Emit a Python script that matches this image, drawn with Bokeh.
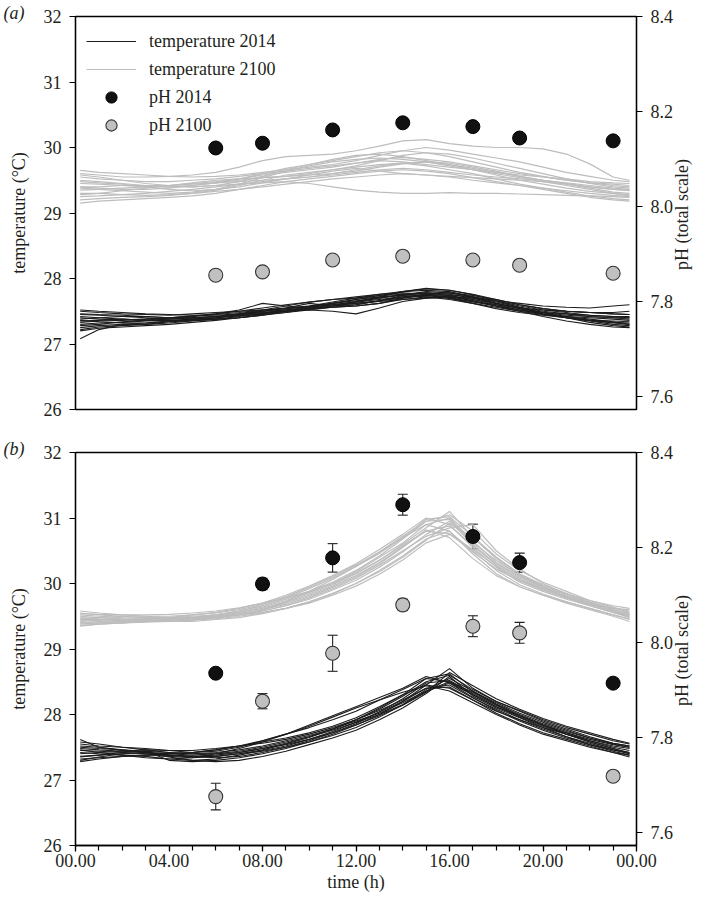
import math
from bokeh.plotting import figure
from bokeh.models import (Range1d, LinearAxis, FixedTicker, Whisker, TeeHead, Title,
                          ColumnDataSource, Legend, LegendItem, PrintfTickFormatter)
from bokeh.layouts import column
from bokeh.embed import file_html
from bokeh.resources import INLINE

FONT = "Liberation Serif"

# ---------------- data ----------------
hours = [0.2, 1, 2, 3, 4, 5, 6, 7, 8, 9, 10, 11, 12, 13, 14, 15, 16, 17, 18, 19, 20, 21, 22, 23, 23.7]

temp_a_2014 = [
    [27.08,27.22,27.30,27.32,27.35,27.38,27.40,27.43,27.47,27.50,27.53,27.56,27.60,27.66,27.72,27.76,27.74,27.68,27.60,27.52,27.45,27.40,27.36,27.33,27.32],
    [27.35,27.36,27.38,27.36,27.40,27.42,27.45,27.48,27.52,27.55,27.58,27.62,27.66,27.70,27.75,27.80,27.78,27.72,27.64,27.56,27.50,27.46,27.42,27.40,27.40],
    [27.45,27.44,27.42,27.40,27.38,27.40,27.42,27.45,27.48,27.50,27.52,27.56,27.58,27.62,27.68,27.72,27.70,27.65,27.60,27.55,27.52,27.50,27.48,27.46,27.45],
    [27.25,27.28,27.30,27.30,27.32,27.35,27.38,27.42,27.46,27.52,27.56,27.60,27.65,27.72,27.80,27.85,27.82,27.75,27.66,27.56,27.48,27.40,27.33,27.28,27.26],
    [27.50,27.48,27.46,27.45,27.44,27.46,27.48,27.50,27.52,27.54,27.57,27.60,27.62,27.65,27.68,27.70,27.72,27.70,27.66,27.62,27.58,27.56,27.55,27.58,27.60],
    [27.30,27.32,27.33,27.35,27.36,27.38,27.40,27.44,27.50,27.55,27.62,27.58,27.60,27.66,27.74,27.78,27.76,27.70,27.62,27.54,27.46,27.40,27.35,27.30,27.28],
    [27.40,27.38,27.37,27.38,27.40,27.42,27.46,27.52,27.62,27.58,27.55,27.56,27.58,27.62,27.70,27.74,27.75,27.72,27.66,27.58,27.52,27.48,27.44,27.42,27.42],
    [27.20,27.24,27.26,27.28,27.30,27.33,27.36,27.40,27.45,27.48,27.52,27.50,27.46,27.55,27.65,27.70,27.72,27.66,27.58,27.50,27.42,27.35,27.30,27.26,27.25],
    [27.38,27.40,27.42,27.42,27.40,27.38,27.40,27.45,27.50,27.54,27.58,27.64,27.70,27.76,27.80,27.82,27.80,27.72,27.62,27.54,27.48,27.44,27.42,27.40,27.38],
    [27.28,27.30,27.34,27.36,27.38,27.40,27.42,27.46,27.50,27.52,27.54,27.58,27.62,27.66,27.70,27.76,27.78,27.74,27.68,27.60,27.54,27.50,27.48,27.48,27.50],
    [27.42,27.40,27.38,27.36,27.35,27.36,27.38,27.40,27.44,27.50,27.56,27.62,27.68,27.72,27.74,27.72,27.68,27.62,27.56,27.50,27.45,27.42,27.40,27.38,27.36],
    [27.33,27.35,27.36,27.38,27.40,27.43,27.46,27.50,27.55,27.60,27.64,27.68,27.70,27.74,27.76,27.74,27.70,27.64,27.58,27.52,27.46,27.42,27.38,27.34,27.30],
    [27.46,27.45,27.44,27.42,27.40,27.40,27.42,27.44,27.46,27.50,27.54,27.58,27.64,27.70,27.76,27.78,27.74,27.66,27.58,27.52,27.48,27.46,27.44,27.42,27.40],
    [27.22,27.26,27.28,27.30,27.34,27.36,27.38,27.40,27.44,27.48,27.54,27.60,27.64,27.68,27.72,27.74,27.72,27.68,27.62,27.55,27.48,27.42,27.36,27.32,27.30],
    [27.36,27.34,27.32,27.32,27.34,27.36,27.40,27.46,27.52,27.58,27.64,27.68,27.72,27.76,27.78,27.76,27.70,27.62,27.54,27.48,27.44,27.40,27.36,27.35,27.34],
    [27.52,27.50,27.48,27.46,27.45,27.44,27.44,27.46,27.48,27.52,27.56,27.62,27.68,27.74,27.80,27.84,27.82,27.76,27.68,27.60,27.54,27.50,27.48,27.46,27.45],
]

temp_a_2100 = [
    [29.60,29.58,29.55,29.55,29.56,29.58,29.62,29.70,29.80,29.86,29.88,29.90,29.95,30.02,30.10,30.12,30.06,30.02,30.00,30.00,29.98,29.90,29.75,29.55,29.50],
    [29.45,29.44,29.42,29.40,29.42,29.45,29.48,29.52,29.58,29.62,29.66,29.70,29.76,29.82,29.85,29.82,29.78,29.72,29.66,29.60,29.55,29.50,29.46,29.44,29.42],
    [29.30,29.30,29.28,29.27,29.28,29.30,29.33,29.36,29.40,29.44,29.48,29.52,29.55,29.58,29.60,29.58,29.55,29.50,29.46,29.42,29.38,29.34,29.30,29.27,29.25],
    [29.55,29.52,29.50,29.48,29.48,29.50,29.52,29.56,29.60,29.64,29.68,29.72,29.76,29.80,29.78,29.74,29.70,29.66,29.62,29.58,29.55,29.52,29.48,29.46,29.45],
    [29.20,29.22,29.24,29.25,29.27,29.30,29.35,29.42,29.50,29.58,29.62,29.66,29.70,29.74,29.76,29.72,29.66,29.60,29.52,29.44,29.38,29.32,29.26,29.22,29.20],
    [29.40,29.38,29.36,29.36,29.38,29.42,29.46,29.50,29.54,29.56,29.58,29.60,29.64,29.70,29.75,29.78,29.76,29.70,29.64,29.56,29.50,29.45,29.40,29.36,29.35],
    [29.35,29.36,29.38,29.40,29.40,29.40,29.42,29.44,29.46,29.48,29.45,29.40,29.35,29.32,29.30,29.30,29.31,29.30,29.30,29.29,29.28,29.27,29.26,29.25,29.24],
    [29.50,29.48,29.45,29.42,29.40,29.42,29.46,29.52,29.60,29.68,29.74,29.80,29.86,29.92,29.95,29.92,29.86,29.78,29.70,29.62,29.56,29.50,29.46,29.42,29.40],
    [29.25,29.26,29.28,29.30,29.33,29.36,29.40,29.44,29.48,29.52,29.55,29.60,29.66,29.72,29.76,29.78,29.74,29.66,29.58,29.50,29.44,29.38,29.33,29.30,29.28],
    [29.65,29.62,29.60,29.58,29.56,29.55,29.56,29.58,29.62,29.66,29.70,29.74,29.80,29.88,29.95,30.00,29.96,29.90,29.84,29.78,29.70,29.62,29.56,29.50,29.48],
    [29.40,29.40,29.42,29.42,29.42,29.44,29.46,29.48,29.50,29.52,29.55,29.58,29.62,29.66,29.68,29.66,29.62,29.58,29.55,29.52,29.50,29.46,29.42,29.38,29.36],
    [29.15,29.18,29.20,29.22,29.24,29.26,29.30,29.36,29.42,29.48,29.52,29.56,29.60,29.64,29.66,29.64,29.60,29.54,29.48,29.42,29.36,29.30,29.24,29.20,29.18],
    [29.58,29.55,29.50,29.45,29.42,29.40,29.42,29.48,29.56,29.66,29.74,29.82,29.88,29.90,29.86,29.80,29.74,29.68,29.62,29.56,29.50,29.44,29.38,29.32,29.30],
    [29.28,29.30,29.34,29.38,29.42,29.46,29.50,29.52,29.54,29.56,29.60,29.66,29.72,29.80,29.88,29.92,29.90,29.84,29.76,29.68,29.60,29.52,29.45,29.40,29.38],
    [29.48,29.46,29.44,29.40,29.36,29.34,29.36,29.40,29.46,29.52,29.58,29.64,29.68,29.64,29.60,29.58,29.56,29.54,29.52,29.50,29.48,29.44,29.40,29.36,29.34],
    [29.38,29.36,29.34,29.32,29.30,29.32,29.36,29.44,29.54,29.64,29.72,29.78,29.82,29.84,29.82,29.78,29.72,29.66,29.60,29.54,29.48,29.42,29.36,29.30,29.26],
]

temp_b_2014 = [
    [27.62,27.50,27.45,27.42,27.38,27.35,27.36,27.40,27.46,27.55,27.65,27.78,27.92,28.10,28.30,28.55,28.62,28.35,28.18,28.02,27.88,27.76,27.64,27.55,27.50],
    [27.30,27.35,27.40,27.42,27.40,27.38,27.40,27.44,27.50,27.58,27.66,27.76,27.88,28.00,28.15,28.35,28.48,28.30,28.12,27.98,27.84,27.72,27.60,27.50,27.45],
    [27.50,27.48,27.46,27.44,27.30,27.28,27.30,27.34,27.40,27.48,27.58,27.70,27.84,28.00,28.20,28.45,28.70,28.40,28.20,28.05,27.90,27.78,27.66,27.56,27.52],
    [27.40,27.42,27.44,27.46,27.45,27.45,27.48,27.52,27.58,27.64,27.72,27.82,27.95,28.12,28.30,28.45,28.40,28.22,28.05,27.92,27.80,27.70,27.60,27.52,27.48],
    [27.45,27.44,27.42,27.40,27.35,27.30,27.28,27.30,27.36,27.44,27.54,27.64,27.76,27.92,28.10,28.32,28.58,28.28,28.10,27.95,27.80,27.66,27.54,27.44,27.38],
    [27.55,27.52,27.50,27.48,27.45,27.42,27.44,27.50,27.60,27.70,27.80,27.92,28.05,28.22,28.38,28.55,28.50,28.30,28.12,27.96,27.82,27.70,27.58,27.48,27.42],
    [27.35,27.38,27.40,27.40,27.36,27.34,27.36,27.40,27.44,27.50,27.58,27.68,27.80,27.96,28.15,28.38,28.55,28.36,28.15,27.98,27.84,27.72,27.62,27.54,27.50],
    [27.48,27.46,27.44,27.42,27.40,27.42,27.46,27.52,27.56,27.62,27.70,27.80,27.92,28.06,28.22,28.40,28.45,28.25,28.08,27.92,27.78,27.66,27.56,27.46,27.40],
    [27.28,27.32,27.36,27.38,27.38,27.36,27.34,27.36,27.42,27.50,27.60,27.72,27.86,28.04,28.24,28.48,28.52,28.32,28.14,27.98,27.84,27.70,27.58,27.48,27.40],
    [27.58,27.55,27.50,27.46,27.42,27.40,27.40,27.42,27.48,27.56,27.66,27.78,27.92,28.08,28.28,28.50,28.60,28.38,28.20,28.06,27.92,27.80,27.70,27.60,27.55],
    [27.42,27.40,27.38,27.36,27.32,27.30,27.32,27.38,27.45,27.52,27.62,27.74,27.88,28.04,28.20,28.40,28.42,28.22,28.02,27.86,27.72,27.62,27.52,27.42,27.35],
    [27.36,27.38,27.42,27.44,27.42,27.40,27.42,27.46,27.52,27.60,27.68,27.78,27.90,28.02,28.18,28.36,28.50,28.34,28.16,28.00,27.86,27.74,27.64,27.56,27.52],
    [27.46,27.42,27.38,27.34,27.32,27.34,27.40,27.48,27.58,27.70,27.84,27.98,28.12,28.26,28.40,28.58,28.48,28.26,28.06,27.90,27.76,27.64,27.54,27.46,27.42],
    [27.32,27.34,27.36,27.38,27.40,27.42,27.46,27.52,27.60,27.70,27.82,27.96,28.10,28.22,28.34,28.44,28.36,28.18,28.00,27.84,27.70,27.60,27.50,27.42,27.38],
    [27.52,27.50,27.46,27.42,27.38,27.36,27.38,27.42,27.48,27.54,27.62,27.72,27.84,27.98,28.14,28.34,28.64,28.44,28.24,28.08,27.94,27.82,27.72,27.62,27.56],
]

temp_b_2100 = [
    [29.55,29.52,29.50,29.48,29.48,29.50,29.52,29.56,29.62,29.72,29.84,29.98,30.15,30.35,30.60,30.85,31.10,30.70,30.40,30.15,29.98,29.85,29.72,29.62,29.58],
    [29.40,29.42,29.44,29.44,29.42,29.44,29.48,29.52,29.58,29.66,29.76,29.90,30.05,30.25,30.48,30.75,30.95,30.60,30.30,30.08,29.92,29.80,29.68,29.56,29.50],
    [29.48,29.46,29.45,29.46,29.48,29.52,29.56,29.62,29.70,29.82,29.96,30.12,30.30,30.52,30.75,31.00,30.90,30.55,30.25,30.02,29.88,29.76,29.66,29.56,29.48],
    [29.35,29.38,29.40,29.42,29.42,29.42,29.45,29.48,29.54,29.62,29.72,29.85,30.00,30.20,30.42,30.68,30.80,30.45,30.15,29.95,29.82,29.70,29.60,29.50,29.42],
    [29.50,29.48,29.46,29.44,29.45,29.48,29.52,29.58,29.66,29.76,29.88,30.02,30.20,30.42,30.68,30.95,31.05,30.80,30.45,30.20,30.02,29.88,29.74,29.64,29.56],
    [29.42,29.44,29.45,29.46,29.46,29.48,29.50,29.54,29.60,29.68,29.80,29.94,30.10,30.30,30.55,30.82,30.70,30.38,30.12,29.95,29.82,29.72,29.62,29.52,29.46],
    [29.38,29.40,29.42,29.43,29.44,29.46,29.50,29.56,29.64,29.74,29.86,30.00,30.18,30.40,30.62,30.90,31.00,30.65,30.32,30.10,29.94,29.80,29.68,29.58,29.52],
    [29.52,29.50,29.48,29.47,29.47,29.48,29.50,29.53,29.58,29.66,29.78,29.92,30.08,30.28,30.50,30.72,30.85,30.90,30.50,30.22,30.00,29.84,29.70,29.60,29.55],
    [29.45,29.45,29.44,29.45,29.46,29.48,29.52,29.58,29.66,29.78,29.92,30.08,30.26,30.46,30.70,30.98,31.02,30.72,30.40,30.14,29.96,29.82,29.70,29.60,29.54],
    [29.36,29.38,29.40,29.42,29.44,29.46,29.48,29.52,29.56,29.62,29.70,29.82,29.96,30.14,30.36,30.62,30.75,30.50,30.20,29.98,29.84,29.72,29.62,29.52,29.45],
    [29.58,29.55,29.52,29.50,29.50,29.52,29.55,29.60,29.68,29.80,29.94,30.10,30.28,30.48,30.72,30.95,30.98,30.62,30.35,30.12,29.96,29.84,29.74,29.66,29.62],
    [29.44,29.43,29.42,29.43,29.44,29.46,29.49,29.53,29.60,29.70,29.82,29.96,30.12,30.32,30.56,30.80,30.88,30.58,30.28,30.05,29.90,29.78,29.66,29.56,29.50],
    [29.46,29.48,29.50,29.50,29.48,29.46,29.48,29.52,29.60,29.72,29.88,30.06,30.26,30.48,30.70,30.90,30.80,30.48,30.22,30.04,29.90,29.78,29.68,29.58,29.52],
    [29.40,29.40,29.40,29.41,29.42,29.44,29.46,29.50,29.55,29.62,29.72,29.84,30.00,30.18,30.40,30.66,30.92,30.70,30.38,30.12,29.94,29.80,29.68,29.58,29.50],
    [29.54,29.53,29.52,29.52,29.53,29.55,29.58,29.63,29.70,29.78,29.88,30.00,30.16,30.36,30.58,30.80,30.76,30.52,30.26,30.06,29.92,29.80,29.70,29.62,29.60],
]

ph_times = [6, 8, 11, 14, 17, 19, 23]
ph_a_2014 = [8.123, 8.133, 8.161, 8.176, 8.168, 8.144, 8.138]
ph_a_2014_err = [0.004, 0.005, 0.005, 0.005, 0.008, 0.006, 0.005]
ph_a_2100 = [7.855, 7.862, 7.887, 7.895, 7.887, 7.876, 7.859]
ph_a_2100_err = [0.004, 0.004, 0.005, 0.006, 0.006, 0.005, 0.008]
ph_b_2014 = [7.935, 8.123, 8.178, 8.290, 8.223, 8.168, 7.914]
ph_b_2014_err = [0.008, 0.012, 0.030, 0.022, 0.026, 0.020, 0.008]
ph_b_2100 = [7.675, 7.876, 7.977, 8.079, 8.034, 8.020, 7.718]
ph_b_2100_err = [0.028, 0.016, 0.038, 0.012, 0.022, 0.022, 0.010]

x_ticks = [0, 4, 8, 12, 16, 20, 24]
x_tick_labels = ["00.00", "04.00", "08.00", "12.00", "16.00", "20.00", "00.00"]
temp_ticks = [26, 27, 28, 29, 30, 31, 32]
ph_ticks = [7.6, 7.8, 8.0, 8.2, 8.4]

BLACK_LINE = "#1c1c1c"
GREY_LINE = "#bdbdbd"
BLACK_DOT = "#111111"
GREY_DOT = "#c0c0c0"
TEXT_C = "#231f20"

TICK_FS = "18px"
LAB_FS = "18px"


def style_axis(ax):
    ax.major_label_text_font = FONT
    ax.major_label_text_font_size = TICK_FS
    ax.major_label_text_color = TEXT_C
    ax.axis_label_text_font = FONT
    ax.axis_label_text_font_size = LAB_FS
    ax.axis_label_text_font_style = "normal"
    ax.axis_label_text_color = TEXT_C
    ax.axis_line_color = "black"
    ax.axis_line_width = 1.3
    ax.major_tick_line_color = "black"
    ax.major_tick_line_width = 1.2
    ax.major_tick_in = 0
    ax.major_tick_out = 6
    ax.minor_tick_line_color = None


def make_panel(tag, t14, t21, ph14, ph14e, ph21, ph21e, height, top, bottom, with_x):
    p = figure(width=709, height=height, output_backend="svg", toolbar_location=None,
               x_range=Range1d(0, 24), y_range=Range1d(26, 32),
               x_axis_location="below" if with_x else None,
               min_border_left=75, min_border_right=73,
               min_border_top=top, min_border_bottom=bottom)
    p.extra_y_ranges = {"ph": Range1d(7.572, 8.4)}
    p.xgrid.visible = False
    p.ygrid.visible = False
    p.outline_line_color = "black"
    p.outline_line_width = 1.3
    p.background_fill_color = "white"
    p.border_fill_color = "white"

    # panel tag as a title just above-left of the frame
    t = Title(text=tag, align="left", offset=-72, standoff=-12,
              text_font=FONT, text_font_size="18px", text_font_style="italic",
              text_color=TEXT_C, text_line_height=0.5)
    p.add_layout(t, "above")

    la = p.yaxis[0]
    la.ticker = FixedTicker(ticks=temp_ticks)
    la.axis_label = "temperature (°C)"
    la.axis_label_standoff = 12
    la.major_label_standoff = 8
    style_axis(la)

    # right pH axis; label reads bottom-to-top like the left one
    ra = LinearAxis(y_range_name="ph", ticker=FixedTicker(ticks=ph_ticks),
                    formatter=PrintfTickFormatter(format="%.1f"))
    ra.axis_label_standoff = 6
    ra.major_label_standoff = 8
    style_axis(ra)
    ra.axis_label = "\u00a0" * 31 + "pH (total scale)"
    ra.axis_label_orientation = math.pi / 2
    ra.axis_label_align = "start"
    p.add_layout(ra, "right")

    if with_x:
        xa = p.xaxis[0]
        xa.ticker = FixedTicker(ticks=x_ticks, minor_ticks=list(range(0, 25)))
        xa.major_label_overrides = {t: l for t, l in zip(x_ticks, x_tick_labels)}
        xa.axis_label = "time (h)"
        xa.axis_label_standoff = 2
        xa.major_label_standoff = 2
        style_axis(xa)
        xa.minor_tick_line_color = "black"
        xa.minor_tick_line_width = 1.2
        xa.minor_tick_in = 0
        xa.minor_tick_out = 5

    r21 = p.multi_line(xs=[hours] * len(t21), ys=t21, line_color=GREY_LINE, line_width=1.2)
    r14 = p.multi_line(xs=[hours] * len(t14), ys=t14, line_color=BLACK_LINE, line_width=1.1)

    s14 = ColumnDataSource(dict(t=ph_times, y=ph14,
                                lo=[a - b for a, b in zip(ph14, ph14e)],
                                hi=[a + b for a, b in zip(ph14, ph14e)]))
    s21 = ColumnDataSource(dict(t=ph_times, y=ph21,
                                lo=[a - b for a, b in zip(ph21, ph21e)],
                                hi=[a + b for a, b in zip(ph21, ph21e)]))
    for s in (s14, s21):
        w = Whisker(source=s, base="t", lower="lo", upper="hi", dimension="height",
                    y_range_name="ph", line_color="#222222", line_width=1.1,
                    upper_head=TeeHead(size=10, line_color="#222222", line_width=1.1),
                    lower_head=TeeHead(size=10, line_color="#222222", line_width=1.1))
        p.add_layout(w)

    c14 = p.scatter("t", "y", source=s14, y_range_name="ph", marker="circle", size=14,
                    fill_color=BLACK_DOT, line_color="#000000", line_width=1)
    c21 = p.scatter("t", "y", source=s21, y_range_name="ph", marker="circle", size=14,
                    fill_color=GREY_DOT, line_color="#333333", line_width=1.1)
    return p, r14, r21, c14, c21


pa, ra14, ra21, ca14, ca21 = make_panel("(a)", temp_a_2014, temp_a_2100,
                                        ph_a_2014, ph_a_2014_err, ph_a_2100, ph_a_2100_err,
                                        height=430, top=16, bottom=21, with_x=False)
pb, *_ = make_panel("(b)", temp_b_2014, temp_b_2100,
                    ph_b_2014, ph_b_2014_err, ph_b_2100, ph_b_2100_err,
                    height=467, top=22, bottom=52, with_x=True)

legend = Legend(items=[
    LegendItem(label="temperature 2014", renderers=[ra14]),
    LegendItem(label="temperature 2100", renderers=[ra21]),
    LegendItem(label="pH 2014", renderers=[ca14]),
    LegendItem(label="pH 2100", renderers=[ca21]),
], location="top_left")
legend.border_line_color = None
legend.background_fill_alpha = 0
legend.margin = 11
legend.padding = 0
legend.glyph_width = 50
legend.glyph_height = 28
legend.label_height = 28
legend.spacing = 0
legend.label_standoff = 13
legend.label_text_font = FONT
legend.label_text_font_size = "18px"
legend.label_text_color = TEXT_C
pa.add_layout(legend)

layout = column(pa, pb, spacing=0)
open("out.html", "w").write(file_html(layout, INLINE))
